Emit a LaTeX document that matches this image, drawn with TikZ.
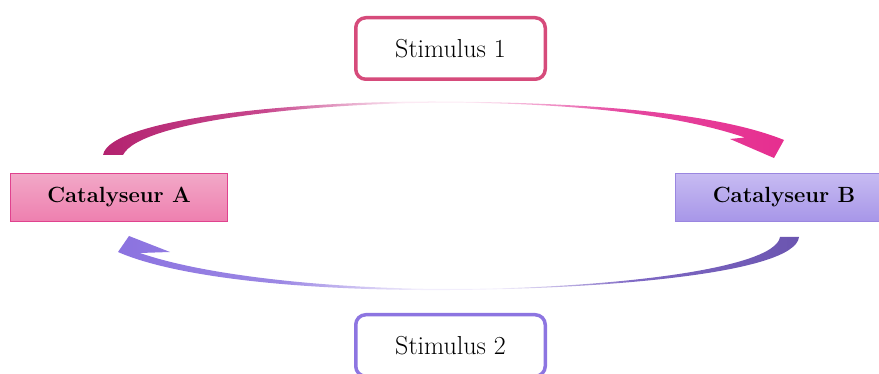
\documentclass[tikz,border=0pt]{standalone}
\usetikzlibrary{positioning}
\definecolor{pinkA}{HTML}{E0428E}
\definecolor{pinkTop}{HTML}{F2A8C7}
\definecolor{pinkBot}{HTML}{EE7FAF}
\definecolor{lavB}{HTML}{9A86E0}
\definecolor{lavTop}{HTML}{C7BBF2}
\definecolor{lavBot}{HTML}{A796E8}
\definecolor{stimPink}{HTML}{D64B7B}
\definecolor{stimLav}{HTML}{8D75E1}
\definecolor{arrTopL}{HTML}{B3226F}
\definecolor{arrTopQ}{HTML}{C8488E}
\definecolor{arrTopM}{HTML}{FCEAF4}
\definecolor{arrTopP}{HTML}{E548A0}
\definecolor{arrTopR}{HTML}{E62E8F}
\definecolor{arrBotL}{HTML}{8B72E0}
\definecolor{arrBotQ}{HTML}{9C88E4}
\definecolor{arrBotM}{HTML}{F2EEFC}
\definecolor{arrBotP}{HTML}{7E68C4}
\definecolor{arrBotR}{HTML}{6B55B0}
\pgfdeclarehorizontalshading{topshade}{100bp}{color(0bp)=(arrTopL); color(25bp)=(arrTopL);
  color(37bp)=(arrTopQ); color(47bp)=(arrTopM); color(52bp)=(arrTopM);
  color(63bp)=(arrTopP); color(75bp)=(arrTopR); color(100bp)=(arrTopR)}
\pgfdeclarehorizontalshading{botshade}{100bp}{color(0bp)=(arrBotL); color(25bp)=(arrBotL);
  color(37bp)=(arrBotQ); color(47bp)=(arrBotM); color(53bp)=(arrBotM);
  color(63bp)=(arrBotP); color(75bp)=(arrBotR); color(100bp)=(arrBotR)}
\tikzset{
  catbox/.style={draw, line width=1pt, minimum width=217pt, minimum height=48pt,
    inner sep=0pt, font=\bfseries\fontsize{22}{26}\selectfont},
  stimbox/.style={draw, fill=white, line width=3.5pt, rounded corners=10pt,
    minimum width=189.5pt, minimum height=61.5pt, inner sep=0pt,
    font=\fontsize{26}{31}\selectfont},
}
\begin{document}
\begin{tikzpicture}[x=1pt,y=-1pt]
\useasboundingbox (0,0) rectangle (879,374);
\clip (0,0) rectangle (879,374);
% nodes
\node[catbox, draw=pinkA, top color=pinkTop, bottom color=pinkBot] (A) at (119,197.5) {Catalyseur A};
\node[catbox, draw=lavB, top color=lavTop, bottom color=lavBot] (B) at (784,197.5) {Catalyseur B};
\node[stimbox, draw=stimPink] (S1) at (450.5,48.5) {Stimulus 1};
\node[stimbox, draw=stimLav] (S2) at (450.5,345.5) {Stimulus 2};
% top arrow A -> B
\path[shading=topshade]
  (103,155) .. controls (110,117) and (310,100) .. (450,101.6)
  .. controls (600,103) and (720,114) .. (784,140)
  -- (774,158) -- (730,139) -- (745,137.5)
  .. controls (690,119) and (600,103.5) .. (450,102.6)
  .. controls (320,102.6) and (140,120) .. (123,155) -- cycle;
% bottom arrow B -> A
\path[shading=botshade]
  (799,237) .. controls (795,274) and (600,289) .. (450,290)
  .. controls (300,291) and (175,277) .. (118,252)
  -- (129,236) -- (170,252) -- (140,253)
  .. controls (200,274) and (320,288.8) .. (450,289)
  .. controls (600,289) and (775,270) .. (780,237) -- cycle;
\end{tikzpicture}
\end{document}
